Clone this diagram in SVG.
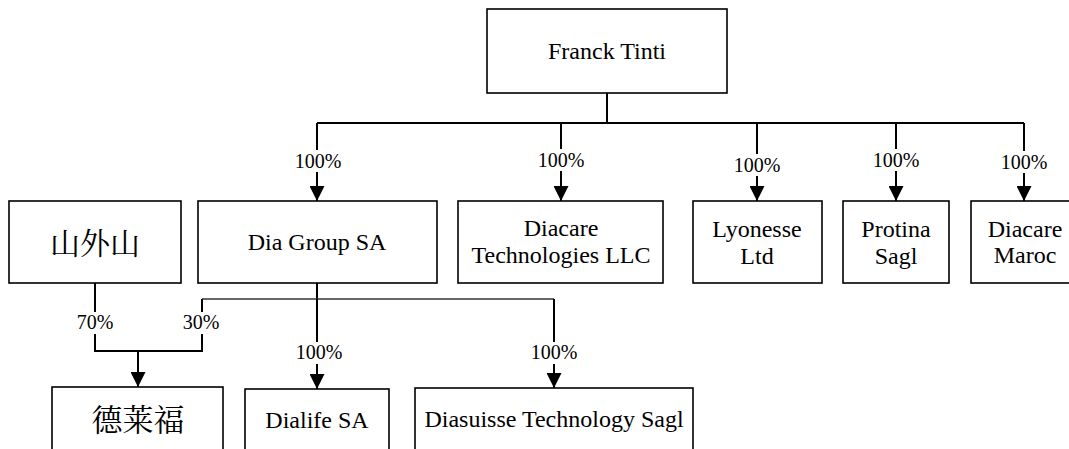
<svg xmlns="http://www.w3.org/2000/svg" width="1069" height="449" viewBox="0 0 1069 449">
<style>
.box{fill:#fff;stroke:#000;stroke-width:1.6}
.ln{fill:none;stroke:#000;stroke-width:2}
.thin{fill:none;stroke:#333;stroke-width:1.3}
.bg{fill:#fff}
</style>
<defs>
<marker id="arr" markerUnits="userSpaceOnUse" markerWidth="15" markerHeight="15" refX="15" refY="7.5" orient="auto" viewBox="0 0 15 15">
<path d="M0,0 L15,7.5 L0,15 z" fill="#000"/>
</marker>
</defs>
<rect width="1069" height="449" fill="#fff"/>
<g id="connectors">
<path class="ln" d="M607,93 V123"/>
<path class="ln" d="M317,123 H1024"/>
<path class="ln" d="M317,123 V201" marker-end="url(#arr)"/>
<path class="ln" d="M561,123 V201" marker-end="url(#arr)"/>
<path class="ln" d="M757,123 V201" marker-end="url(#arr)"/>
<path class="ln" d="M896,123 V201" marker-end="url(#arr)"/>
<path class="ln" d="M1024,123 V201" marker-end="url(#arr)"/>
<path class="ln" d="M317,283 V299"/>
<path class="thin" d="M202,299 H554"/>
<path class="ln" d="M202,299 V351 H95 V283"/>
<path class="ln" d="M138,351 V387" marker-end="url(#arr)"/>
<path class="ln" d="M317,299 V389" marker-end="url(#arr)"/>
<path class="ln" d="M554,299 V388" marker-end="url(#arr)"/>
<g id="labels" text-anchor="middle" font-size="20">
<rect class="bg" x="293" y="150" width="48" height="22"/><text style="font-family:'Liberation Serif',serif" x="318" y="168">100%</text>
<rect class="bg" x="537" y="149" width="48" height="22"/><text style="font-family:'Liberation Serif',serif" x="561" y="167">100%</text>
<rect class="bg" x="733" y="154" width="48" height="22"/><text style="font-family:'Liberation Serif',serif" x="757" y="172">100%</text>
<rect class="bg" x="872" y="149" width="48" height="22"/><text style="font-family:'Liberation Serif',serif" x="896" y="167">100%</text>
<rect class="bg" x="1000" y="151" width="48" height="22"/><text style="font-family:'Liberation Serif',serif" x="1024" y="169">100%</text>
<rect class="bg" x="76" y="312" width="38" height="22"/><text style="font-family:'Liberation Serif',serif" x="95" y="329">70%</text>
<rect class="bg" x="182" y="312" width="38" height="22"/><text style="font-family:'Liberation Serif',serif" x="201" y="329">30%</text>
<rect class="bg" x="295" y="342" width="48" height="22"/><text style="font-family:'Liberation Serif',serif" x="319" y="359">100%</text>
<rect class="bg" x="530" y="342" width="48" height="22"/><text style="font-family:'Liberation Serif',serif" x="554" y="359">100%</text>
</g>
</g>
<g id="nodes" text-anchor="middle" font-size="24">
<g id="franck"><rect class="box" x="487" y="9" width="240" height="84"/><text style="font-family:'Liberation Serif',serif" x="607" y="59">Franck Tinti</text></g>
<g id="shanwaishan"><rect class="box" x="9" y="201" width="172" height="82"/><text style="font-family:'Noto Serif CJK SC','Noto Sans CJK SC',serif" font-size="30" x="95" y="254">山外山</text></g>
<g id="diagroup"><rect class="box" x="198" y="201" width="239" height="82"/><text style="font-family:'Liberation Serif',serif" x="317" y="250">Dia Group SA</text></g>
<g id="diacaretech"><rect class="box" x="458" y="201" width="205" height="82"/><text style="font-family:'Liberation Serif',serif" x="561" y="236">Diacare</text><text style="font-family:'Liberation Serif',serif" x="561" y="263">Technologies LLC</text></g>
<g id="lyonesse"><rect class="box" x="693" y="201" width="129" height="82"/><text style="font-family:'Liberation Serif',serif" x="757" y="237">Lyonesse</text><text style="font-family:'Liberation Serif',serif" x="757" y="264">Ltd</text></g>
<g id="protina"><rect class="box" x="843" y="201" width="106" height="82"/><text style="font-family:'Liberation Serif',serif" x="896" y="237">Protina</text><text style="font-family:'Liberation Serif',serif" x="896" y="264">Sagl</text></g>
<g id="diacaremaroc"><rect class="box" x="971" y="201" width="110" height="82"/><text style="font-family:'Liberation Serif',serif" x="1025" y="237">Diacare</text><text style="font-family:'Liberation Serif',serif" x="1025" y="263">Maroc</text></g>
<g id="delaifu"><rect class="box" x="52" y="387" width="171" height="80"/><text style="font-family:'Noto Serif CJK SC','Noto Sans CJK SC',serif" font-size="31" x="138" y="431">德莱福</text></g>
<g id="dialife"><rect class="box" x="245" y="389" width="144" height="80"/><text style="font-family:'Liberation Serif',serif" x="317" y="428">Dialife SA</text></g>
<g id="diasuisse"><rect class="box" x="415" y="388" width="278" height="80"/><text style="font-family:'Liberation Serif',serif" x="554" y="427">Diasuisse Technology Sagl</text></g>
</g>
</svg>
